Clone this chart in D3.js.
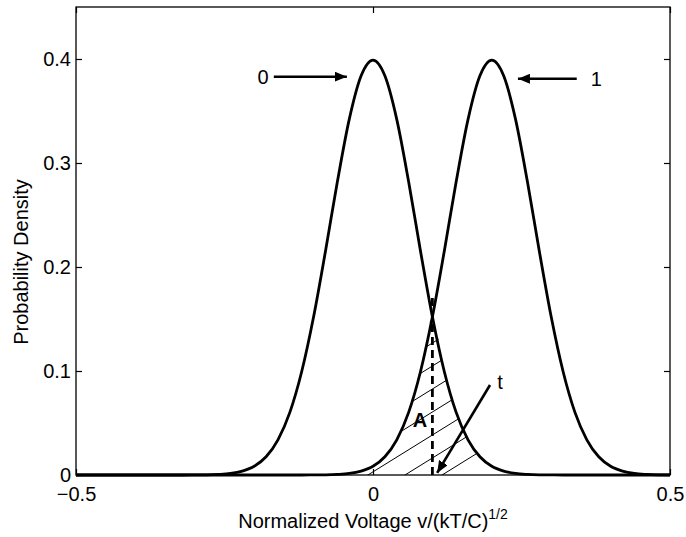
<!DOCTYPE html>
<html>
<head>
<meta charset="utf-8">
<script src="https://cdn.jsdelivr.net/npm/d3@7"></script>
<style>
body { margin: 0; background: #fff; }
text { font-family: "Liberation Sans", Arial, Helvetica, sans-serif; }
</style>
</head>
<body>
<div id="chart"></div>
<script>
// sample positions along the voltage axis
var xGrid = [-0.5, -0.48, -0.46, -0.44, -0.42, -0.4, -0.38, -0.36, -0.34, -0.32,
	-0.3, -0.28, -0.26, -0.24, -0.22, -0.2, -0.18, -0.16, -0.14, -0.12,
	-0.1, -0.08, -0.06, -0.04, -0.02, 0, 0.02, 0.04, 0.06, 0.08,
	0.1, 0.12, 0.14, 0.16, 0.18, 0.2, 0.22, 0.24, 0.26, 0.28,
	0.3, 0.32, 0.34, 0.36, 0.38, 0.4, 0.42, 0.44, 0.46, 0.48, 0.5];
// density of the "0" level
var pdf0 = [0, 0, 0, 0, 0, 0, 0, 0, 0, 0,
	0.0001, 0.0002, 0.0006, 0.0015, 0.0038, 0.0084, 0.0175, 0.0338, 0.0602, 0.0995,
	0.1521, 0.2152, 0.2819, 0.3419, 0.3838, 0.3989, 0.3838, 0.3419, 0.2819, 0.2152,
	0.1521, 0.0995, 0.0602, 0.0338, 0.0175, 0.0084, 0.0038, 0.0015, 0.0006, 0.0002,
	0.0001, 0, 0, 0, 0, 0, 0, 0, 0, 0, 0];
// density of the "1" level
var pdf1 = [0, 0, 0, 0, 0, 0, 0, 0, 0, 0,
	0, 0, 0, 0, 0, 0, 0, 0, 0, 0,
	0.0001, 0.0002, 0.0006, 0.0015, 0.0038, 0.0084, 0.0175, 0.0338, 0.0602, 0.0995,
	0.1521, 0.2152, 0.2819, 0.3419, 0.3838, 0.3989, 0.3838, 0.3419, 0.2819, 0.2152,
	0.1521, 0.0995, 0.0602, 0.0338, 0.0175, 0.0084, 0.0038, 0.0015, 0.0006, 0.0002, 0.0001];

var xTicks = [-0.5, 0, 0.5];
var yTicks = [0, 0.1, 0.2, 0.3, 0.4];
var threshold = 0.1;
var thresholdTop = 0.175;

// annotation arrows (data coords)
var arrowLabels = ["0", "1", "t"];
var arrowFrom = [[-0.167, 0.383], [0.343, 0.381], [0.197, 0.0865]];
var arrowTo = [[-0.044, 0.383], [0.244, 0.381], [0.108, 0.002]];
var labelAt = [[-0.185, 0.383], [0.376, 0.381], [0.214, 0.089]];
var areaLabel = "A", areaLabelAt = [0.079, 0.053];

var W = 686, H = 537;
var margin = {left: 76, top: 7, right: 16, bottom: 62};
var w = W - margin.left - margin.right;
var h = H - margin.top - margin.bottom;

var svg = d3.select("#chart").append("svg")
	.attr("width", W)
	.attr("height", H);

var defs = svg.append("defs");
defs.append("marker")
	.attr("id", "head")
	.attr("viewBox", "0 0 12 10")
	.attr("refX", 12)
	.attr("refY", 5)
	.attr("markerWidth", 12)
	.attr("markerHeight", 10)
	.attr("markerUnits", "userSpaceOnUse")
	.attr("orient", "auto")
	.append("path")
	.attr("d", "M0,0L12,5L0,10Z")
	.attr("fill", "#000");

var g = svg.append("g")
	.attr("transform", "translate(" + margin.left + "," + margin.top + ")");

var x = d3.scaleLinear().domain([-0.5, 0.5]).range([0, w]);
var y = d3.scaleLinear().domain([0, 0.45]).range([h, 0]);

var pts0 = xGrid.map(function(v, i) { return [v, pdf0[i]]; });
var pts1 = xGrid.map(function(v, i) { return [v, pdf1[i]]; });
var overlap = xGrid.map(function(v, i) { return [v, Math.min(pdf0[i], pdf1[i])]; });

// hatched overlap region
var area = d3.area()
	.x(function(d) { return x(d[0]); })
	.y0(h)
	.y1(function(d) { return y(d[1]); })
	.curve(d3.curveMonotoneX);

defs.append("clipPath")
	.attr("id", "overlapClip")
	.append("path")
	.attr("d", area(overlap.filter(function(d) { return d[0] >= -0.02 && d[0] <= 0.22; })));

var hatch = g.append("g").attr("clip-path", "url(#overlapClip)");
var xd = x(threshold);
var slope = 0.62;
for (var j = 0; j < 9; j++) {
	var yj = y(0) + 6 - 23 * j;
	hatch.append("line")
		.attr("x1", xd - 90)
		.attr("y1", yj + slope * 90)
		.attr("x2", xd + 90)
		.attr("y2", yj - slope * 90)
		.attr("stroke", "#000")
		.attr("stroke-width", 1);
}

// curves
var line = d3.line()
	.x(function(d) { return x(d[0]); })
	.y(function(d) { return y(d[1]); })
	.curve(d3.curveMonotoneX);

g.selectAll(".pdf")
	.data([pts0, pts1])
	.enter().append("path")
	.attr("class", "pdf")
	.attr("d", line)
	.attr("fill", "none")
	.attr("stroke", "#000")
	.attr("stroke-width", 2.8);

// threshold
g.append("line")
	.attr("x1", x(threshold))
	.attr("x2", x(threshold))
	.attr("y1", y(0))
	.attr("y2", y(thresholdTop))
	.attr("stroke", "#000")
	.attr("stroke-width", 2.8)
	.attr("stroke-dasharray", "8,5");

// axes box with inward ticks
g.append("rect")
	.attr("width", w)
	.attr("height", h)
	.attr("fill", "none")
	.attr("stroke", "#000")
	.attr("stroke-width", 1.3);

var tk = 6;
g.append("g")
	.attr("transform", "translate(0," + h + ")")
	.call(d3.axisBottom(x).tickValues(xTicks).tickSize(-tk).tickPadding(tk + 6)
		.tickFormat(function(d) { return d < 0 ? "\u2212" + Math.abs(d) : d; }))
	.call(function(a) { a.select(".domain").remove(); });
g.append("g")
	.call(d3.axisTop(x).tickValues(xTicks).tickSize(-tk).tickFormat(""))
	.call(function(a) { a.select(".domain").remove(); });
g.append("g")
	.call(d3.axisLeft(y).tickValues(yTicks).tickSize(-tk).tickPadding(5)
		.tickFormat(function(d) { return d; }))
	.call(function(a) { a.select(".domain").remove(); });
g.append("g")
	.attr("transform", "translate(" + w + ",0)")
	.call(d3.axisRight(y).tickValues(yTicks).tickSize(-tk).tickFormat(""))
	.call(function(a) { a.select(".domain").remove(); });

g.selectAll(".tick line").attr("stroke", "#000").attr("stroke-width", 1.2);
g.selectAll(".tick text")
	.attr("fill", "#000")
	.style("font-size", "20px")
	.style("font-family", "'Liberation Sans', Arial, sans-serif");

// arrows and labels
arrowLabels.forEach(function(lab, i) {
	g.append("line")
		.attr("x1", x(arrowFrom[i][0]))
		.attr("y1", y(arrowFrom[i][1]))
		.attr("x2", x(arrowTo[i][0]))
		.attr("y2", y(arrowTo[i][1]))
		.attr("stroke", "#000")
		.attr("stroke-width", 2.6)
		.attr("marker-end", "url(#head)");
	g.append("text")
		.attr("x", x(labelAt[i][0]))
		.attr("y", y(labelAt[i][1]))
		.attr("dy", "0.35em")
		.attr("text-anchor", "middle")
		.style("font-size", "20px")
		.text(lab);
});

g.append("text")
	.attr("x", x(areaLabelAt[0]))
	.attr("y", y(areaLabelAt[1]))
	.attr("dy", "0.35em")
	.attr("text-anchor", "middle")
	.style("font-size", "20px")
	.style("font-weight", "bold")
	.text(areaLabel);

// axis titles
var xt = svg.append("text")
	.attr("x", margin.left + w / 2)
	.attr("y", 528)
	.attr("text-anchor", "middle")
	.style("font-size", "20px");
xt.append("tspan").text("Normalized Voltage v/(kT/C)");
xt.append("tspan").attr("dy", -9).style("font-size", "14px").text("1/2");

svg.append("text")
	.attr("transform", "translate(28,262) rotate(-90)")
	.attr("text-anchor", "middle")
	.style("font-size", "20px")
	.text("Probability Density");
</script>
</body>
</html>
